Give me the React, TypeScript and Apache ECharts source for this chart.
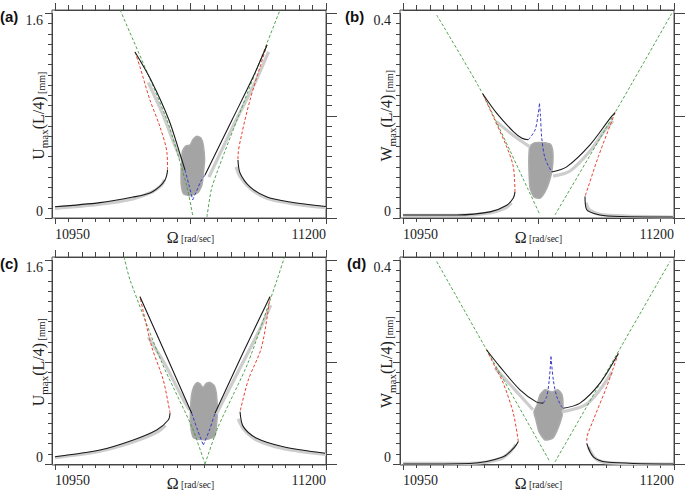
import React, { useEffect, useRef } from 'react';
import * as echarts from 'echarts';

// ---------- tick labels ----------
const X_LABELS = ['10950', '11200'];
const U_LABELS = ['0', '1.6'];
const W_LABELS = ['0', '0.4'];

// ---------- panel (a): U, case 1 ----------
const A_GREEN_L = [[11010.0, 1.628], [11053.3, 0.767], [11071.8, 0.243], [11077.3, 0.008]];
const A_GREEN_R = [[11090.2, 0.008], [11094.8, 0.243], [11117.9, 0.767], [11157.6, 1.628]];
const A_BLACK_LL = [[10950, 0.088], [10991.5, 0.12], [11022, 0.164], [11037.6, 0.196], [11046.9, 0.25], [11051.5, 0.297], [11053.3, 0.344], [11053.8, 0.376]];
const A_RED_L = [[11053.8, 0.376], [11053.3, 0.509], [11046.9, 0.712], [11037.6, 0.923], [11028.4, 1.181], [11023.8, 1.299]];
const A_BLACK_UL = [[11023.8, 1.299], [11038.5, 1.08], [11055.1, 0.767], [11066.2, 0.477], [11069.9, 0.376]];
const A_BLUE_L = [[11069.9, 0.376], [11073.6, 0.258], [11077.0, 0.141]];
const A_BLUE_R = [[11077.0, 0.141], [11081.0, 0.219], [11084.7, 0.29], [11088.4, 0.336]];
const A_BLACK_UR = [[11088.4, 0.336], [11113.3, 0.767], [11132.7, 1.103], [11145.6, 1.354]];
const A_RED_R = [[11145.6, 1.354], [11139.1, 1.182], [11129.9, 0.923], [11122.5, 0.665], [11118.8, 0.477], [11118.8, 0.454]];
const A_BLACK_LR = [[11118.8, 0.454], [11120.7, 0.352], [11129.9, 0.243], [11145.6, 0.164], [11166.8, 0.125], [11200, 0.09]];
const A_GRAY_LL = [[10950, 0.075], [10991.5, 0.108], [11022, 0.15], [11040, 0.205], [11048, 0.255], [11051, 0.3]];
const A_GRAY_UL = [[11036, 1.06], [11049, 0.82], [11060, 0.58], [11066, 0.46]];
const A_GRAY_UR = [[11092, 0.32], [11115, 0.73], [11134, 1.05], [11147, 1.3]];
const A_GRAY_LR = [[11117, 0.4], [11121, 0.32], [11131, 0.225], [11146, 0.152], [11167, 0.115], [11200, 0.08]];
const A_BLOB = [[11067.5, 0.52], [11070.8, 0.565], [11074.5, 0.57], [11077.3, 0.615], [11081.0, 0.64], [11084.7, 0.625], [11086.8, 0.57], [11088.0, 0.454], [11087.0, 0.36], [11085.5, 0.258], [11082.0, 0.2], [11074.5, 0.175], [11068.5, 0.19], [11066.5, 0.258], [11066.3, 0.376], [11067.0, 0.454]];

// ---------- panel (b): W, case 1 ----------
const B_GREEN_L = [[10981.1, 0.397], [11023.5, 0.243], [11065.6, 0.055], [11076.4, 0.006]];
const B_GREEN_R = [[11090.2, 0.006], [11145.6, 0.206], [11197.9, 0.4]];
const B_BLACK_LL = [[10950, 0.006], [10999.5, 0.006], [11030.3, 0.012], [11045.7, 0.025], [11051.8, 0.039], [11053.3, 0.051]];
const B_RED_L = [[11053.3, 0.051], [11051.8, 0.1], [11045.7, 0.139], [11033.3, 0.198], [11023.5, 0.243]];
const B_BLACK_UL = [[11023.5, 0.243], [11036.4, 0.205], [11051.8, 0.169], [11059.8, 0.156], [11065.6, 0.153]];
const B_BLUE_L = [[11065.6, 0.153], [11071.8, 0.172], [11074.8, 0.205], [11075.9, 0.224]];
const B_BLUE_R = [[11075.9, 0.224], [11076.8, 0.201], [11077.9, 0.159], [11081.0, 0.117], [11087.2, 0.09]];
const B_BLACK_UR = [[11087.2, 0.09], [11101.0, 0.1], [11122.5, 0.143], [11141.0, 0.195], [11145.6, 0.206]];
const B_RED_R = [[11145.6, 0.206], [11130.2, 0.12], [11120.9, 0.061], [11117.9, 0.042]];
const B_BLACK_LR = [[11117.9, 0.042], [11119.5, 0.016], [11131.7, 0.006], [11150.2, 0.003], [11199, 0.002]];
const B_GRAY_LL = [[10950, 0.005], [11000, 0.005], [11030, 0.01], [11045, 0.02], [11050, 0.03]];
const B_GRAY_UL = [[11036.4, 0.188], [11051.5, 0.162], [11067.2, 0.139]];
const B_GRAY_UR = [[11088.4, 0.082], [11104.1, 0.092], [11122.5, 0.131], [11136.3, 0.172], [11143.7, 0.19]];
const B_GRAY_LR = [[11119, 0.03], [11122, 0.016], [11135, 0.006], [11199, 0.002]];
const B_BLOB = [[11067.2, 0.141], [11071.8, 0.147], [11081.0, 0.147], [11086.5, 0.143], [11088.4, 0.123], [11087.5, 0.094], [11084.7, 0.07], [11081.0, 0.051], [11076.4, 0.039], [11070.8, 0.041], [11067.2, 0.059], [11066.2, 0.094], [11066.2, 0.123]];

// ---------- panel (c): U, case 2 ----------
const C_GREEN_L = [[11013.7, 1.628], [11019.2, 1.448], [11048.7, 0.798], [11076.4, 0.297], [11088.4, 0.008]];
const C_GREEN_R = [[11088.4, 0.008], [11100.4, 0.297], [11128.0, 0.798], [11154.8, 1.448], [11161.7, 1.628]];
const C_BLACK_LL = [[10950, 0.065], [10991.5, 0.117], [11022.2, 0.196], [11043.8, 0.274], [11054.5, 0.352], [11056.1, 0.405]];
const C_RED_L = [[11056.1, 0.405], [11049.9, 0.665], [11039.2, 0.926], [11028.4, 1.317]];
const C_BLACK_UL = [[11028.4, 1.317], [11052.4, 0.861], [11076.1, 0.405]];
const C_BLUE_L = [[11076.1, 0.405], [11081.5, 0.274], [11086.8, 0.156]];
const C_BLUE_R = [[11086.8, 0.156], [11092.5, 0.274], [11097.6, 0.405]];
const C_BLACK_UR = [[11097.6, 0.405], [11122.5, 0.861], [11148.3, 1.317]];
const C_RED_R = [[11148.3, 1.317], [11140.7, 0.926], [11128.3, 0.665], [11120.7, 0.417]];
const C_BLACK_LR = [[11120.7, 0.417], [11123.7, 0.3], [11136.1, 0.209], [11160.6, 0.143], [11199.1, 0.092]];
const C_GRAY_LL = [[10950, 0.058], [10991.5, 0.108], [11022, 0.18], [11044, 0.255], [11052, 0.31]];
const C_GRAY_UL = [[11036, 1.0], [11052, 0.78], [11066, 0.55], [11074, 0.43]];
const C_GRAY_UR = [[11099, 0.4], [11122, 0.78], [11140, 1.08], [11149, 1.25]];
const C_GRAY_LR = [[11119, 0.36], [11124, 0.28], [11136, 0.195], [11160, 0.13], [11200, 0.082]];
const C_BLOB = [[11076.0, 0.548], [11078.0, 0.612], [11081.0, 0.645], [11083.8, 0.636], [11086.5, 0.605], [11089.3, 0.636], [11093.0, 0.645], [11096.9, 0.62], [11098.8, 0.563], [11099.8, 0.43], [11099.0, 0.313], [11097.2, 0.222], [11088.4, 0.198], [11077.8, 0.214], [11075.0, 0.313], [11075.0, 0.43]];

// ---------- panel (d): W, case 2 ----------
const D_GREEN_L = [[10981.1, 0.398], [11085.6, 0.006]];
const D_GREEN_R = [[11090.2, 0.006], [11196.3, 0.398]];
const D_BLACK_LL = [[10950.3, 0.002], [11011.8, 0.003], [11042.5, 0.016], [11053.3, 0.036], [11056.4, 0.046]];
const D_RED_L = [[11056.4, 0.046], [11051.8, 0.101], [11042.5, 0.16], [11034.9, 0.192], [11027.2, 0.225]];
const D_BLACK_UL = [[11027.2, 0.225], [11039.5, 0.192], [11057.9, 0.147], [11073.3, 0.123], [11079.4, 0.121]];
const D_BLUE_L = [[11079.4, 0.121], [11082.6, 0.134], [11084.9, 0.166], [11086.5, 0.212]];
const D_BLUE_R = [[11086.5, 0.212], [11088.7, 0.166], [11091.8, 0.134], [11096.4, 0.114], [11097.9, 0.111]];
const D_BLACK_UR = [[11097.9, 0.111], [11113.3, 0.121], [11131.7, 0.16], [11148.6, 0.218]];
const D_RED_R = [[11148.6, 0.218], [11137.9, 0.153], [11125.6, 0.088], [11119.5, 0.049], [11119.5, 0.042]];
const D_BLACK_LR = [[11119.5, 0.042], [11125.6, 0.016], [11137.9, 0.006], [11199.4, 0.002]];
const D_GRAY_LL = [[10950, 0.003], [11010, 0.003], [11040, 0.012], [11050, 0.028], [11054, 0.04]];
const D_GRAY_UL = [[11034.9, 0.19], [11053.3, 0.147], [11069.9, 0.108]];
const D_GRAY_UR = [[11096.4, 0.104], [11117.9, 0.117], [11131.7, 0.147], [11142.8, 0.182]];
const D_GRAY_LR = [[11121, 0.035], [11128, 0.012], [11140, 0.004], [11199, 0.002]];
const D_BLOB = [[11073.6, 0.117], [11076.4, 0.137], [11081.0, 0.147], [11087.5, 0.143], [11093.0, 0.147], [11096.7, 0.137], [11097.6, 0.117], [11096.7, 0.096], [11093.0, 0.072], [11088.4, 0.053], [11081.0, 0.049], [11075.5, 0.065], [11072.7, 0.088], [11070.8, 0.104]];

type Pts = number[][];
interface Panel {
  letter: string; dx: number; dy: number; letterX: number;
  yMax: number; yStep: number; yLabels: string[]; qty: string;
  green: Pts[]; black: Pts[]; red: Pts[]; blue: Pts[]; gray: Pts[]; blob: Pts;
}

const PANELS: Panel[] = [
  { letter: '(a)', dx: 0, dy: 0, letterX: 0, yMax: 1.6, yStep: 0.8, yLabels: U_LABELS, qty: 'U',
    green: [A_GREEN_L, A_GREEN_R], black: [A_BLACK_LL, A_BLACK_UL, A_BLACK_UR, A_BLACK_LR], red: [A_RED_L, A_RED_R],
    blue: [A_BLUE_L, A_BLUE_R], gray: [A_GRAY_LL, A_GRAY_UL, A_GRAY_UR, A_GRAY_LR], blob: A_BLOB },
  { letter: '(b)', dx: 348, dy: 0, letterX: 345, yMax: 0.4, yStep: 0.2, yLabels: W_LABELS, qty: 'W',
    green: [B_GREEN_L, B_GREEN_R], black: [B_BLACK_LL, B_BLACK_UL, B_BLACK_UR, B_BLACK_LR], red: [B_RED_L, B_RED_R],
    blue: [B_BLUE_L, B_BLUE_R], gray: [B_GRAY_LL, B_GRAY_UL, B_GRAY_UR, B_GRAY_LR], blob: B_BLOB },
  { letter: '(c)', dx: 0, dy: 247, letterX: 0, yMax: 1.6, yStep: 0.8, yLabels: U_LABELS, qty: 'U',
    green: [C_GREEN_L, C_GREEN_R], black: [C_BLACK_LL, C_BLACK_UL, C_BLACK_UR, C_BLACK_LR], red: [C_RED_L, C_RED_R],
    blue: [C_BLUE_L, C_BLUE_R], gray: [C_GRAY_LL, C_GRAY_UL, C_GRAY_UR, C_GRAY_LR], blob: C_BLOB },
  { letter: '(d)', dx: 348, dy: 247, letterX: 347, yMax: 0.4, yStep: 0.2, yLabels: W_LABELS, qty: 'W',
    green: [D_GREEN_L, D_GREEN_R], black: [D_BLACK_LL, D_BLACK_UL, D_BLACK_UR, D_BLACK_LR], red: [D_RED_L, D_RED_R],
    blue: [D_BLUE_L, D_BLUE_R], gray: [D_GRAY_LL, D_GRAY_UL, D_GRAY_UR, D_GRAY_LR], blob: D_BLOB },
];

const SERIF = '"Liberation Serif", "Times New Roman", serif';
const AX = '#444';
const GREEN = '#3f9a3f';
const RED = '#e8402e';
const BLUE = '#3a3ac8';
const BLACK = '#1a1a1a';

// geometry (px)
const TICK_LEFT = 55, TICK_TOP = 13.5, TICK_W = 271, TICK_H = 204.5;
const FRAME_LEFT = 52, FRAME_TOP = 10, FRAME_W = 274, FRAME_H = 208;
const X0 = 10950, X1 = 11200;

const ls = () => ({ color: AX, width: 1, type: 'solid' });

function tickAxisCommon(len: number, minorLen: number) {
  return {
    axisLine: { show: true, onZero: false, lineStyle: ls() },
    axisTick: { show: true, inside: false, length: len, lineStyle: ls() },
    minorTick: { show: true, splitNumber: 10, length: minorLen, lineStyle: ls() },
    splitLine: { show: false },
    minorSplitLine: { show: false },
    nameMoveOverlap: false,
  };
}

function buildOption() {
  const grid: any[] = [];
  const xAxis: any[] = [];
  const yAxis: any[] = [];
  const series: any[] = [];
  const graphic: any[] = [];
  const pxPerX = TICK_W / (X1 - X0);
  const xMinFrame = X0 - (TICK_LEFT - FRAME_LEFT) / pxPerX;

  PANELS.forEach((p, i) => {
    const gData = 2 * i, gTick = 2 * i + 1;
    grid.push({ left: FRAME_LEFT + p.dx, top: FRAME_TOP + p.dy, width: FRAME_W, height: FRAME_H,
      show: true, borderColor: '#555', borderWidth: 1, backgroundColor: 'transparent' });
    grid.push({ left: TICK_LEFT + p.dx, top: TICK_TOP + p.dy, width: TICK_W, height: TICK_H, show: false });

    xAxis.push({ gridIndex: gData, type: 'value', min: xMinFrame, max: X1, show: false });
    xAxis.push({
      gridIndex: gTick, type: 'value', min: X0, max: X1, interval: 125, position: 'bottom',
      ...tickAxisCommon(6, 4),
      axisLabel: {
        margin: 9, fontFamily: SERIF, fontSize: 14, color: '#222',
        alignMinLabel: 'left', alignMaxLabel: 'right',
        formatter: (v: number) => (X_LABELS.includes(String(Math.round(v))) ? String(Math.round(v)) : ''),
      },
      name: '{o|Ω}{r| [rad/sec]}', nameLocation: 'middle', nameGap: 11,
      nameTextStyle: { fontFamily: SERIF, color: '#222', verticalAlign: 'top', rich: {
        o: { fontFamily: SERIF, fontSize: 16, color: '#222', verticalAlign: 'bottom' },
        r: { fontFamily: SERIF, fontSize: 9.5, color: '#222', verticalAlign: 'bottom', padding: [0, 0, 1, 0] },
      } },
    });
    xAxis.push({
      gridIndex: gTick, type: 'value', min: X0, max: X1, interval: 125, position: 'top', offset: TICK_TOP - FRAME_TOP,
      ...tickAxisCommon(7, 5),
      axisLabel: { show: false },
    });

    yAxis.push({ gridIndex: gData, type: 'value', min: 0, max: p.yMax * FRAME_H / TICK_H, show: false });
    yAxis.push({
      gridIndex: gTick, type: 'value', min: 0, max: p.yMax, interval: p.yStep, position: 'left', offset: TICK_LEFT - FRAME_LEFT,
      ...tickAxisCommon(7, 4),
      axisLabel: {
        margin: 9, fontFamily: SERIF, fontSize: 14, color: '#222',
        verticalAlignMinLabel: 'bottom', verticalAlignMaxLabel: 'top',
        formatter: (v: number) => {
          const s = String(Math.round(v * 100) / 100);
          return p.yLabels.includes(s) ? s : '';
        },
      },
      name: `{a|${p.qty}}{s|max}{a|(L/4)}{m| [mm]}`, nameLocation: 'middle', nameRotate: 90, nameGap: 3,
      nameTextStyle: { fontFamily: SERIF, color: '#222', rich: {
        a: { fontFamily: SERIF, fontSize: 16, color: '#222', verticalAlign: 'bottom', padding: [0, 0, 3, 0] },
        s: { fontFamily: SERIF, fontSize: 11, color: '#222', verticalAlign: 'bottom' },
        m: { fontFamily: SERIF, fontSize: 10, color: '#222', verticalAlign: 'bottom', padding: [0, 0, 3, 0] },
      } },
    });
    yAxis.push({
      gridIndex: gTick, type: 'value', min: 0, max: p.yMax, interval: p.yStep, position: 'right', offset: 0,
      ...tickAxisCommon(11, 6),
      axisLabel: { show: false },
    });

    const xi = 3 * i, yi = 3 * i;
    const blob = p.blob;
    series.push({
      type: 'custom', xAxisIndex: xi, yAxisIndex: yi, data: [blob[0]], z: 1, silent: true, clip: true,
      renderItem: (_params: any, api: any) => ({
        type: 'polygon',
        shape: { points: blob.map((pt) => api.coord(pt)), smooth: 0.2 },
        style: { fill: '#a4a4a4', stroke: '#ababab', lineWidth: 1.5 },
      }),
    });
    const line = (data: Pts, color: string, width: number, dashed: boolean, z: number, smooth: number) => ({
      type: 'line', xAxisIndex: xi, yAxisIndex: yi, data, showSymbol: false, symbol: 'none', smooth,
      lineStyle: { color, width, type: dashed ? [3, 2] : 'solid' }, z, silent: true, clip: true,
    });
    p.gray.forEach((d) => series.push(line(d, '#cdcdcd', 3.2, false, 2, 0.3)));
    p.green.forEach((d) => series.push(line(d, GREEN, 0.9, true, 3, 0.2)));
    p.red.forEach((d) => series.push(line(d, RED, 1, true, 4, 0.3)));
    p.blue.forEach((d) => series.push(line(d, BLUE, 1, true, 4, 0.3)));
    p.black.forEach((d) => series.push(line(d, BLACK, 1.1, false, 5, 0.3)));

    graphic.push({ type: 'text', left: p.letterX, top: 9 + p.dy,
      style: { text: p.letter, font: 'bold 15px "Liberation Sans", Arial, sans-serif', fill: '#111' } });
  });

  return { animation: false, backgroundColor: '#fff', grid, xAxis, yAxis, series, graphic };
}

export default function App() {
  const ref = useRef<HTMLDivElement>(null);
  useEffect(() => {
    if (!ref.current) return;
    const chart = echarts.init(ref.current, undefined, { renderer: 'svg' });
    chart.setOption(buildOption() as any);
    return () => chart.dispose();
  }, []);
  return <div ref={ref} style={{ position: 'fixed', left: 0, top: 0, width: 685, height: 492, background: '#fff' }} />;
}
